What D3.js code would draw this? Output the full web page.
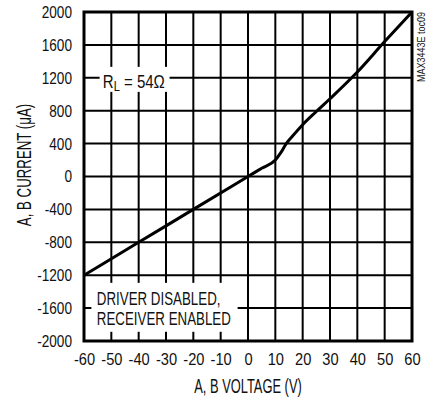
<!DOCTYPE html>
<html>
<head>
<meta charset="utf-8">
<script src="https://cdn.jsdelivr.net/npm/d3@7"></script>
<style>
  body { margin: 0; background: #fff; }
  text { font-family: "Liberation Sans", Arial, sans-serif; fill: #111; }
</style>
</head>
<body>
<svg id="chart" width="438" height="400"></svg>
<script>
// A, B current vs A, B voltage (driver disabled, receiver enabled)
var voltage = [-60, -40, -20, 0, 5, 10, 12, 14, 16, 20, 25, 30, 40, 50, 60];
var current = [-1200, -800, -400, 0, 100, 200, 290, 400, 480, 630, 790, 945, 1270, 1640, 2000];

var xTicks = [-60, -50, -40, -30, -20, -10, 0, 10, 20, 30, 40, 50, 60];
var yTicks = [2000, 1600, 1200, 800, 400, 0, -400, -800, -1200, -1600, -2000];

var w = 438, h = 400;
var margin = {top: 12, right: 26, bottom: 59, left: 84};
var iw = w - margin.left - margin.right;
var ih = h - margin.top - margin.bottom;

// the original uses a condensed face, so squeeze the glyphs horizontally
function squeeze(sel, k) {
  sel.each(function () {
    var len = this.getComputedTextLength();
    d3.select(this).attr('textLength', len * k).attr('lengthAdjust', 'spacingAndGlyphs');
  });
}
var plain = function (d) { return String(d); };

var svg = d3.select('#chart');
var g = svg.append('g').attr('transform', 'translate(' + margin.left + ',' + margin.top + ')');

var xs = d3.scaleLinear().domain([-60, 60]).range([0, iw]);
var ys = d3.scaleLinear().domain([-2000, 2000]).range([ih, 0]);

// grid, one path per direction
var vgrid = d3.path();
xTicks.forEach(function (v) { vgrid.moveTo(xs(v), 0); vgrid.lineTo(xs(v), ih); });
var hgrid = d3.path();
yTicks.forEach(function (v) { hgrid.moveTo(0, ys(v)); hgrid.lineTo(iw, ys(v)); });
g.append('path').attr('d', vgrid.toString())
  .attr('fill', 'none').attr('stroke', '#000').attr('stroke-width', 2);
g.append('path').attr('d', hgrid.toString())
  .attr('fill', 'none').attr('stroke', '#000').attr('stroke-width', 2);

// white boxes behind the notes
g.append('rect')
  .attr('x', xs(-54.3)).attr('y', ys(1333))
  .attr('width', xs(-28.7) - xs(-54.3)).attr('height', ys(1029) - ys(1333))
  .attr('fill', '#fff');
g.append('rect')
  .attr('x', xs(-57.3)).attr('y', ys(-1293))
  .attr('width', xs(-3.8) - xs(-57.3)).attr('height', ys(-1888) - ys(-1293))
  .attr('fill', '#fff');

// axes labels
var xAxis = g.append('g').attr('transform', 'translate(0,' + ih + ')')
  .call(d3.axisBottom(xs).tickValues(xTicks).tickSize(0).tickPadding(12).tickFormat(plain));
var yAxis = g.append('g')
  .call(d3.axisLeft(ys).tickValues(yTicks).tickSize(0).tickPadding(12).tickFormat(plain));
xAxis.select('.domain').remove();
yAxis.select('.domain').remove();
xAxis.attr('font-family', null).attr('font-size', null);
yAxis.attr('font-family', null).attr('font-size', null);
xAxis.selectAll('text').attr('font-size', 17).attr('fill', '#111');
yAxis.selectAll('text').attr('font-size', 17).attr('fill', '#111');
squeeze(xAxis.selectAll('text'), 0.86);
squeeze(yAxis.selectAll('text'), 0.8);

// curve
var pts = voltage.map(function (v, i) { return [v, current[i]]; });
var line = d3.line()
  .x(function (d) { return xs(d[0]); })
  .y(function (d) { return ys(d[1]); })
  .curve(d3.curveMonotoneX);
g.append('path').datum(pts)
  .attr('d', line)
  .attr('fill', 'none').attr('stroke', '#000').attr('stroke-width', 3)
  .attr('stroke-linejoin', 'round');

// frame
g.append('rect').attr('x', 0).attr('y', 0).attr('width', iw).attr('height', ih)
  .attr('fill', 'none').attr('stroke', '#000').attr('stroke-width', 3);

// notes
var rl = g.append('text')
  .attr('transform', 'translate(' + xs(-53.1) + ',' + ys(1078) + ') scale(0.79,1)')
  .attr('font-size', 19);
rl.append('tspan').text('R');
rl.append('tspan').attr('font-size', 14).attr('dy', 3).text('L');
rl.append('tspan').attr('dy', -3).text(' = 54\u03a9');

var l1 = g.append('text').attr('x', xs(-55.3)).attr('y', ys(-1560)).attr('font-size', 18.5).text('DRIVER DISABLED,');
var l2 = g.append('text').attr('x', xs(-55.3)).attr('y', ys(-1803)).attr('font-size', 18.5).text('RECEIVER ENABLED');
squeeze(l1, 0.72);
squeeze(l2, 0.72);

// axis titles
var xt = svg.append('text')
  .attr('x', margin.left + iw / 2).attr('y', 393)
  .attr('text-anchor', 'middle').attr('font-size', 19.5)
  .text('A, B VOLTAGE (V)');
squeeze(xt, 0.66);

var yt = svg.append('text')
  .attr('transform', 'translate(31,165) rotate(-90)')
  .attr('text-anchor', 'middle').attr('font-size', 19.5)
  .text('A, B CURRENT (\u03bcA)');
squeeze(yt, 0.68);

// figure id along the right edge
var tag = svg.append('text')
  .attr('transform', 'translate(425,' + margin.top + ') rotate(-90)')
  .attr('text-anchor', 'end').attr('font-size', 10)
  .text('MAX3443E toc09');
squeeze(tag, 0.9);
</script>
</body>
</html>
